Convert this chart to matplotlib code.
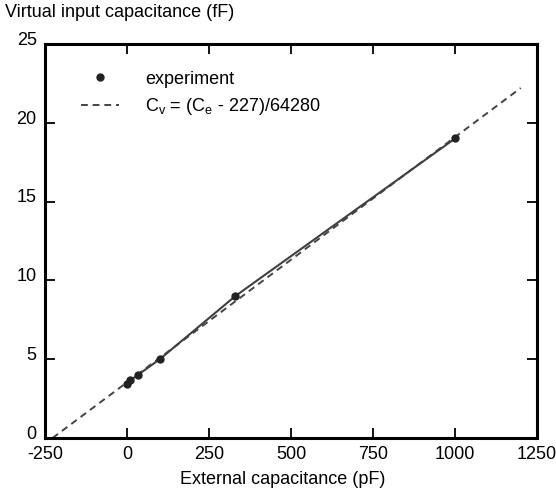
import numpy as np
import matplotlib
matplotlib.use('Agg')
import matplotlib.pyplot as plt
import matplotlib.transforms as mtransforms

plt.rcParams['font.family'] = ['Liberation Sans', 'DejaVu Sans']
plt.rcParams['mathtext.fontset'] = 'custom'
plt.rcParams['mathtext.rm'] = 'Liberation Sans'
plt.rcParams['mathtext.it'] = 'Liberation Sans'
plt.rcParams['axes.unicode_minus'] = False

# experiment data (external pF -> virtual fF)
ext_cap = [0, 10, 33, 100, 330, 1000]
virt_cap = [3.45, 3.65, 4.0, 5.0, 9.0, 19.0]

# fit line range
fit_x = [-227, 1200]
fit_offset = 227
fit_div = 64.28

x_ticks = [-250, 0, 250, 500, 750, 1000, 1250]
y_ticks = [0, 5, 10, 15, 20, 25]

fs = 13

fig = plt.figure(figsize=(5.56, 4.93), dpi=100)
ax = fig.add_axes([0.081, 0.1116, 0.885, 0.7994])

fx = np.array(fit_x, dtype=float)
ax.plot(fx, (fx + fit_offset) / fit_div, '--', color='#444444', lw=1.4,
        dashes=(3.5, 2.5), label=r'C$_\mathrm{v}$ = (C$_\mathrm{e}$ - 227)/64280')
ax.plot(ext_cap, virt_cap, '-', color='#404040', lw=1.5)
ax.plot(ext_cap, virt_cap, 'o', color='#222222', ms=5, label='experiment')

ax.set_xlim(-250, 1250)
ax.set_ylim(0, 25)
ax.set_xticks(x_ticks)
ax.set_yticks(y_ticks)
ax.tick_params(direction='in', length=7, width=1.3, top=True, right=True,
               labelsize=fs, pad=6)
for s in ax.spines.values():
    s.set_linewidth(2.2)

# y tick labels sit a little above their ticks in the original
shift = mtransforms.ScaledTranslation(0, 4 / 72, fig.dpi_scale_trans)
for lbl in ax.get_yticklabels():
    lbl.set_transform(lbl.get_transform() + shift)

handles, labels = ax.get_legend_handles_labels()
ax.legend(handles[::-1], labels[::-1], loc='upper left', frameon=False,
          fontsize=fs, bbox_to_anchor=(0.04, 0.973), handlelength=2.1,
          handletextpad=1.45, labelspacing=0.45)

ax.set_xlabel('External capacitance (pF)', fontsize=fs, labelpad=7)
ax.xaxis.set_label_coords(0.482, -0.083)
fig.text(0.009, 0.958, 'Virtual input capacitance (fF)', fontsize=fs,
         va='bottom')

fig.savefig('out.png', dpi=100)
